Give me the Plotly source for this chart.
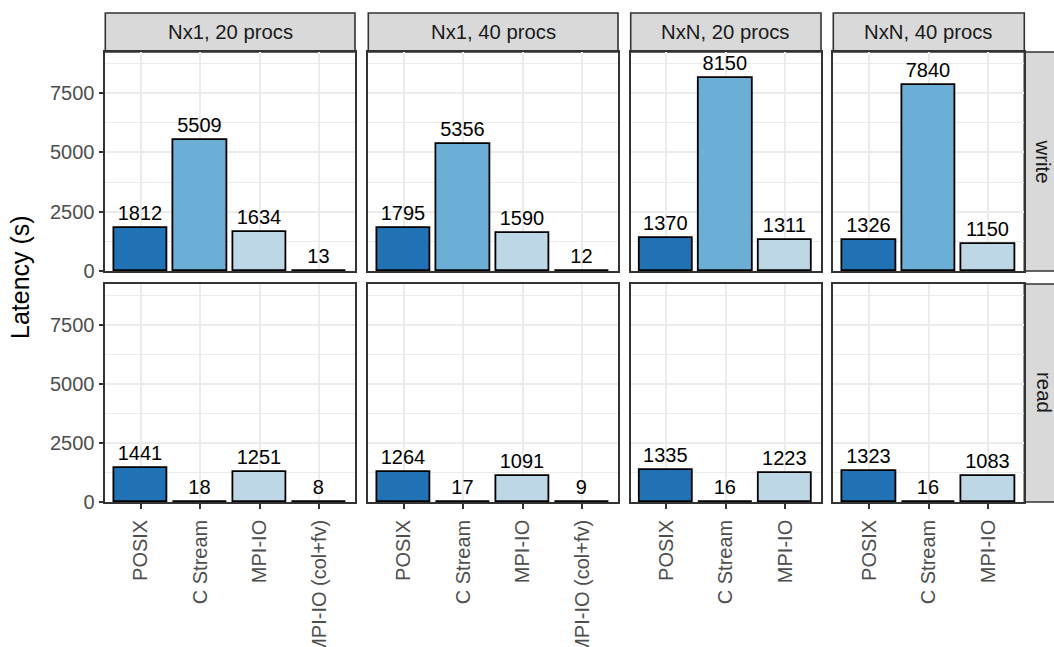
import plotly.graph_objects as go

# Categories and facets
methods = ["POSIX", "C Stream", "MPI-IO", "MPI-IO (col+fv)"]
method_colors = ["#2171b5", "#6baed6", "#bdd7e7", "#eff3ff"]
setups = ["Nx1, 20 procs", "Nx1, 40 procs", "NxN, 20 procs", "NxN, 40 procs"]
ops = ["write", "read"]

# Latency in seconds, one list per (operation, setup) panel
write_nx1_20 = [1812, 5509, 1634, 13]
write_nx1_40 = [1795, 5356, 1590, 12]
write_nxn_20 = [1370, 8150, 1311]
write_nxn_40 = [1326, 7840, 1150]
read_nx1_20 = [1441, 18, 1251, 8]
read_nx1_40 = [1264, 17, 1091, 9]
read_nxn_20 = [1335, 16, 1223]
read_nxn_40 = [1323, 16, 1083]

y_ticks = [0, 2500, 5000, 7500]
y_max = 9230

panels = [
    [write_nx1_20, write_nx1_40, write_nxn_20, write_nxn_40],
    [read_nx1_20, read_nx1_40, read_nxn_20, read_nxn_40],
]

# Page geometry (pixels)
W, H = 1054, 647
col_px = [(105.3, 355.0), (368.3, 618.0), (630.7, 821.0), (833.3, 1024.3)]
row_px = [(52.0, 271.0), (284.0, 502.0)]
strip_top = (13.0, 52.0)
strip_right = (1024.3, 1063.5)

FONT = "Liberation Sans, Arial, Helvetica, sans-serif"
BORDER = "#333333"
GRID = "#ebebeb"
STRIP_FILL = "#d9d9d9"
TICK_SIZE = 20
LABEL_SIZE = 20
STRIP_SIZE = 20.3
TITLE_SIZE = 25


def fx(px):
    return px / W


def fy(py):
    return 1 - py / H


fig = go.Figure()
layout = {}

for r, row_vals in enumerate(panels):
    for c, vals in enumerate(row_vals):
        k = r * 4 + c + 1
        n = len(vals)
        cats = methods[:n]
        xa = f"x{k}" if k > 1 else "x"
        ya = f"y{k}" if k > 1 else "y"
        fig.add_trace(go.Bar(
            x=cats,
            y=vals,
            text=[str(v) for v in vals],
            textposition="outside",
            constraintext="none",
            cliponaxis=False,
            textfont=dict(family=FONT, size=LABEL_SIZE, color="#000000"),
            marker=dict(color=method_colors[:n], line=dict(color="#000000", width=1.8)),
            width=0.9,
            xaxis=xa,
            yaxis=ya,
            showlegend=False,
            hoverinfo="x+y",
        ))
        x0, x1 = col_px[c]
        y0, y1 = row_px[r]
        layout[f"xaxis{k}" if k > 1 else "xaxis"] = dict(
            domain=[fx(x0), fx(x1)],
            anchor=ya,
            automargin=False,
            type="category",
            categoryorder="array",
            categoryarray=cats,
            range=[-0.6, n - 0.4],
            showgrid=True,
            gridcolor=GRID,
            gridwidth=1.6,
            showline=True,
            mirror=True,
            linecolor=BORDER,
            linewidth=1.6,
            ticks="outside" if r == 1 else "",
            ticklen=5,
            tickwidth=1.6,
            tickcolor=BORDER,
            showticklabels=(r == 1),
            tickangle=-90,
            ticklabelstandoff=3,
            tickfont=dict(family=FONT, size=TICK_SIZE, color="#4d4d4d"),
            zeroline=False,
            fixedrange=True,
        )
        layout[f"yaxis{k}" if k > 1 else "yaxis"] = dict(
            domain=[fy(y1), fy(y0)],
            anchor=xa,
            automargin=False,
            range=[0, y_max],
            tickvals=y_ticks,
            showgrid=True,
            gridcolor=GRID,
            gridwidth=1.6,
            minor=dict(dtick=1250, tick0=0, showgrid=True, gridcolor=GRID, gridwidth=0.9),
            showline=True,
            mirror=True,
            linecolor=BORDER,
            linewidth=1.6,
            ticks="outside" if c == 0 else "",
            ticklen=5,
            tickwidth=1.6,
            tickcolor=BORDER,
            showticklabels=(c == 0),
            tickfont=dict(family=FONT, size=TICK_SIZE, color="#4d4d4d"),
            zeroline=False,
            fixedrange=True,
        )

shapes = []
annotations = []

# Column strips across the top
for c, label in enumerate(setups):
    x0, x1 = col_px[c]
    shapes.append(dict(type="rect", xref="paper", yref="paper",
                       x0=fx(x0), x1=fx(x1), y0=fy(strip_top[1]), y1=fy(strip_top[0]),
                       fillcolor=STRIP_FILL, line=dict(color=BORDER, width=1.6), layer="below"))
    annotations.append(dict(xref="paper", yref="paper", x=fx((x0 + x1) / 2),
                            y=fy((strip_top[0] + strip_top[1]) / 2), text=label,
                            showarrow=False, xanchor="center", yanchor="middle",
                            font=dict(family=FONT, size=STRIP_SIZE, color="#1a1a1a")))

# Row strips on the right
for r, label in enumerate(ops):
    y0, y1 = row_px[r]
    shapes.append(dict(type="rect", xref="paper", yref="paper",
                       x0=fx(strip_right[0]), x1=fx(strip_right[1]), y0=fy(y1), y1=fy(y0),
                       fillcolor=STRIP_FILL, line=dict(color=BORDER, width=1.6), layer="below"))
    annotations.append(dict(xref="paper", yref="paper",
                            x=fx((strip_right[0] + strip_right[1]) / 2),
                            y=fy((y0 + y1) / 2), text=label, textangle=90,
                            showarrow=False, xanchor="center", yanchor="middle",
                            font=dict(family=FONT, size=STRIP_SIZE, color="#1a1a1a")))

# Shared y-axis title
annotations.append(dict(xref="paper", yref="paper", x=fx(20),
                        y=fy((row_px[0][0] + row_px[1][1]) / 2), text="Latency (s)",
                        textangle=-90, showarrow=False, xanchor="center", yanchor="middle",
                        font=dict(family=FONT, size=TITLE_SIZE, color="#000000")))

fig.update_layout(
    template="none",
    width=W,
    height=H,
    margin=dict(l=0, r=0, t=0, b=0, autoexpand=False),
    paper_bgcolor="#ffffff",
    plot_bgcolor="#ffffff",
    bargap=0,
    shapes=shapes,
    annotations=annotations,
    font=dict(family=FONT),
    **layout,
)

fig.write_html("out.html")
